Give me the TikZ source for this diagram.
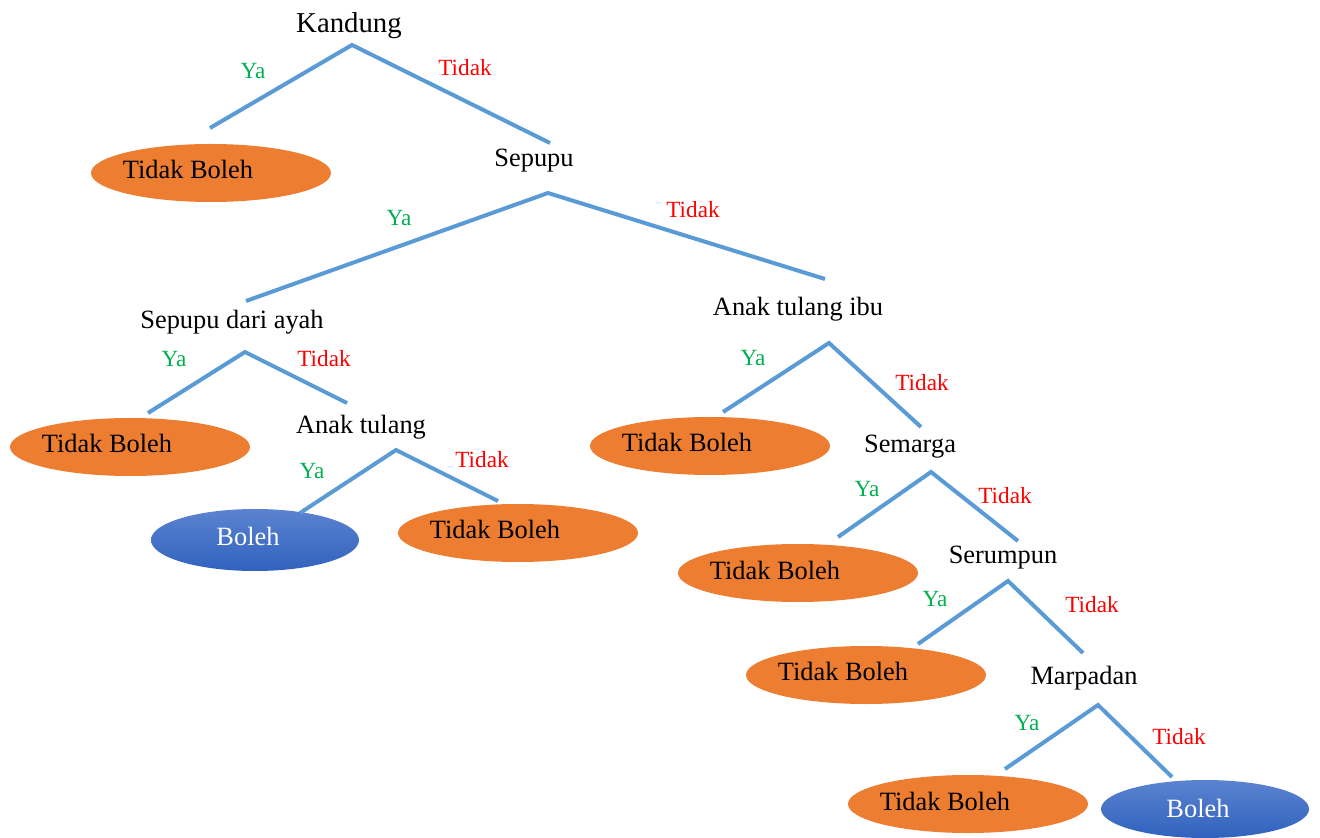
\documentclass[tikz,border=0pt]{standalone}
\usepackage{fontspec}
\setmainfont{Liberation Serif}
\usetikzlibrary{shapes.geometric,calc}
\definecolor{lineblue}{HTML}{5B9BD5}
\definecolor{orangefill}{HTML}{ED7D31}
\definecolor{bluetop}{HTML}{5B83D0}
\definecolor{bluebot}{HTML}{3062BE}
\definecolor{yagreen}{HTML}{00B050}
\definecolor{tidakred}{HTML}{FF0000}
\begin{document}
\begin{tikzpicture}[x=0.5pt,y=-0.5pt,
  branch/.style={draw=lineblue,line width=2pt},
  dec/.style={font=\fontsize{13.2}{15}\selectfont,inner sep=0pt},
  rootdec/.style={font=\fontsize{14.4}{16}\selectfont,inner sep=0pt},
  ya/.style={font=\fontsize{11.6}{13}\selectfont,text=yagreen,inner sep=0pt},
  tidak/.style={font=\fontsize{11.6}{13}\selectfont,text=tidakred,inner sep=0pt},
  nobox/.style={ellipse,fill=orangefill,minimum width=120pt,minimum height=29pt,inner sep=0pt},
  yesbox/.style={ellipse,top color=bluetop,bottom color=bluebot,minimum width=104pt,minimum height=31pt,inner sep=0pt},
  notext/.style={font=\fontsize{13.2}{15}\selectfont,inner sep=0pt,text=black},
  yestext/.style={font=\fontsize{13.2}{15}\selectfont,inner sep=0pt,text=white}
]
\useasboundingbox (0,0) rectangle (1320,838);

% decision nodes
\node[rootdec] (kandung) at (349,26) {Kandung};
\node[dec] (sepupu) at (534,161) {Sepupu};
\node[dec] (sda) at (232,322) {Sepupu dari ayah};
\node[dec] (ati) at (798,309) {Anak tulang ibu};
\node[dec] (at) at (361,427) {Anak tulang};
\node[dec] (semarga) at (910,447) {Semarga};
\node[dec] (serumpun) at (1003,558) {Serumpun};
\node[dec] (marpadan) at (1084,678) {Marpadan};

% outcome ellipses
\node[nobox] (e1) at (211,173) {};
\node[notext] (t1) at ($(e1)+(-23,-4)$) {Tidak Boleh};
\node[nobox] (e2) at (130,447) {};
\node[notext] (t2) at ($(e2)+(-23,-4)$) {Tidak Boleh};
\node[yesbox] (e3) at (255,540) {};
\node[yestext] (t3) at ($(e3)+(-7,-4)$) {Boleh};
\node[nobox] (e4) at (518,533) {};
\node[notext] (t4) at ($(e4)+(-23,-4)$) {Tidak Boleh};
\node[nobox] (e5) at (710,446) {};
\node[notext] (t5) at ($(e5)+(-23,-4)$) {Tidak Boleh};
\node[nobox] (e6) at (798,573) {};
\node[notext] (t6) at ($(e6)+(-23,-3)$) {Tidak Boleh};
\node[nobox] (e7) at (866,675) {};
\node[notext] (t7) at ($(e7)+(-23,-4)$) {Tidak Boleh};
\node[nobox] (e8) at (968,804) {};
\node[notext] (t8) at ($(e8)+(-23,-3)$) {Tidak Boleh};
\node[yesbox,minimum height=29pt] (e9) at (1205,809) {};
\node[yestext] (t9) at ($(e9)+(-7,-1)$) {Boleh};

% branch coordinates
\coordinate (k0) at (352,45);  \coordinate (kL) at (210,128);  \coordinate (kR) at (550,143);
\coordinate (s0) at (548,193); \coordinate (sL) at (246,301);  \coordinate (sR) at (825,279);
\coordinate (d0) at (245,352); \coordinate (dL) at (148,413);  \coordinate (dR) at (347,403);
\coordinate (a0) at (396,450); \coordinate (aL) at (300,513);  \coordinate (aR) at (498,501);
\coordinate (i0) at (829,343); \coordinate (iL) at (723,412);  \coordinate (iR) at (921,427);
\coordinate (m0) at (931,472); \coordinate (mL) at (838,537);  \coordinate (mR) at (1018,541);
\coordinate (r0) at (1008,581);\coordinate (rL) at (918,644);  \coordinate (rR) at (1083,653);
\coordinate (p0) at (1098,705);\coordinate (pL) at (1005,769); \coordinate (pR) at (1172,777);

\draw[branch] (kL) -- (k0) -- (kR);
\draw[branch] (sL) -- (s0) -- (sR);
\draw[branch] (dL) -- (d0) -- (dR);
\draw[branch] (aL) -- (a0) -- (aR);
\draw[branch] (iL) -- (i0) -- (iR);
\draw[branch] (mL) -- (m0) -- (mR);
\draw[branch] (rL) -- (r0) -- (rR);
\draw[branch] (pL) -- (p0) -- (pR);

% labels
\node[ya] (ya1) at (253,71) {Ya};      \node[tidak] (ti1) at (465,68) {Tidak};
\node[ya] (ya2) at (399,218) {Ya};     \node[tidak] (ti2) at (693,210) {Tidak};
\node[ya] (ya3) at (174,359) {Ya};     \node[tidak] (ti3) at (324,359) {Tidak};
\node[ya] (ya4) at (312,471) {Ya};     \node[tidak] (ti4) at (482,460) {Tidak};
\node[ya] (ya5) at (753,358) {Ya};     \node[tidak] (ti5) at (922,383) {Tidak};
\node[ya] (ya6) at (867,489) {Ya};     \node[tidak] (ti6) at (1005,496) {Tidak};
\node[ya] (ya7) at (935,599) {Ya};     \node[tidak] (ti7) at (1092,605) {Tidak};
\node[ya] (ya8) at (1027,723) {Ya};    \node[tidak] (ti8) at (1179,737) {Tidak};
\end{tikzpicture}
\end{document}
